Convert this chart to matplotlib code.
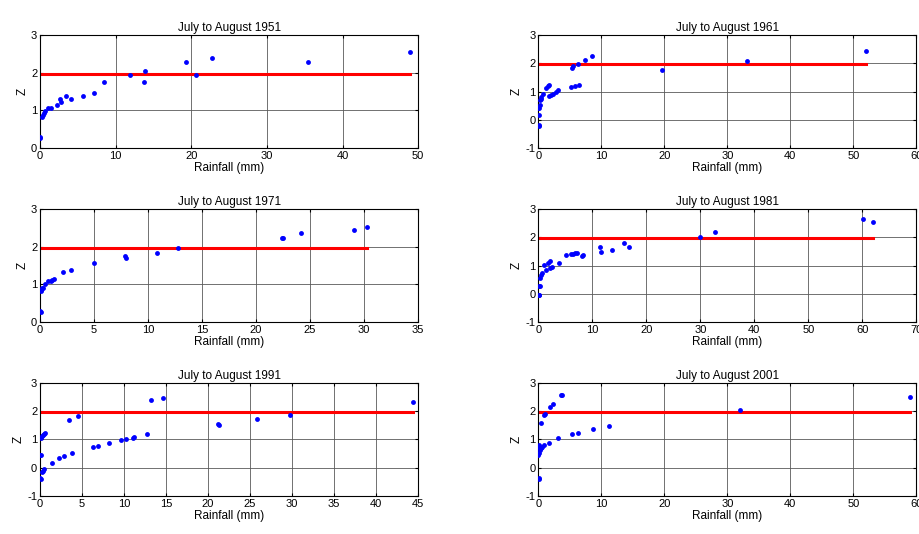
import matplotlib
matplotlib.use("Agg")
import matplotlib.pyplot as plt
import numpy as np

plt.rcParams.update(
    {
        "font.family": ["Liberation Sans", "DejaVu Sans"],
        "font.size": 8,
        "axes.unicode_minus": False,
        "xtick.direction": "in",
        "ytick.direction": "in",
        "xtick.top": True,
        "ytick.right": True,
        "xtick.major.size": 2.5,
        "ytick.major.size": 2.5,
        "axes.linewidth": 0.8,
    }
)

# rainfall (mm) and Z values per period
rain_1951 = [0.0, 0.05, 0.2, 0.35, 0.5, 0.7, 1.1, 1.5, 2.3, 2.7, 2.8, 3.5, 4.1, 5.7, 7.1, 8.4,
             11.9, 13.7, 13.9, 19.3, 20.6, 22.8, 35.5, 48.9]
z_1951 = [0.27, 0.29, 0.83, 0.89, 0.93, 0.98, 1.07, 1.07, 1.15, 1.29, 1.22, 1.39, 1.30, 1.39, 1.46, 1.74,
          1.93, 1.74, 2.04, 2.29, 1.94, 2.40, 2.29, 2.56]

rain_1961 = [0.05, 0.1, 0.05, 0.0, 0.2, 0.3, 0.26, 0.4, 0.5, 0.74, 1.2, 1.5, 1.7, 1.74, 2.06, 2.4,
             2.8, 3.2, 5.2, 5.8, 6.4, 5.3, 5.55, 6.3, 7.4, 8.5, 19.6, 33.1, 52.0]
z_1961 = [-0.23, -0.2, 0.18, 0.40, 0.43, 0.54, 0.69, 0.74, 0.81, 0.90, 1.11, 1.20, 1.22, 0.85, 0.87, 0.92,
          0.98, 1.04, 1.15, 1.19, 1.22, 1.84, 1.89, 1.99, 2.11, 2.25, 1.76, 2.09, 2.44]

rain_1971 = [0.0, 0.06, 0.06, 0.12, 0.2, 0.3, 0.5, 0.7, 1.0, 1.15, 1.27, 2.1, 2.84, 5.0, 7.87, 7.96,
             10.8, 12.8, 22.4, 22.5, 24.2, 29.1, 30.3]
z_1971 = [0.28, 0.27, 0.82, 0.86, 0.89, 0.91, 1.02, 1.09, 1.09, 1.11, 1.14, 1.32, 1.39, 1.57, 1.75, 1.69,
          1.82, 1.96, 2.24, 2.24, 2.36, 2.43, 2.53]

rain_1981 = [0.06, 0.15, 0.06, 0.25, 0.25, 0.43, 0.68, 0.99, 1.36, 1.73, 2.1, 2.2, 2.47, 3.9, 5.1, 6.05,
             6.4, 6.8, 7.1, 8.2, 8.3, 11.5, 11.7, 13.7, 15.8, 16.9, 29.9, 32.7, 60.1, 61.9]
z_1981 = [-0.05, -0.03, 0.27, 0.27, 0.56, 0.66, 0.72, 1.02, 0.84, 1.08, 0.92, 1.16, 0.95, 1.08, 1.36, 1.41,
          1.42, 1.44, 1.46, 1.33, 1.36, 1.66, 1.49, 1.55, 1.79, 1.65, 2.00, 2.18, 2.64, 2.54]

rain_1991 = [0.0, 0.08, 0.04, 0.16, 0.2, 0.3, 0.44, 0.12, 0.24, 0.36, 0.48, 0.63, 1.39, 2.26, 2.9, 3.85,
             3.45, 4.52, 6.3, 6.9, 8.2, 9.6, 10.2, 11.1, 11.15, 12.7, 13.2, 14.6, 21.2, 21.3, 25.8,
             29.8, 44.4]
z_1991 = [-0.37, -0.39, 0.46, 0.46, -0.14, -0.10, -0.04, 1.07, 1.12, 1.16, 1.19, 1.24, 0.18, 0.35, 0.42, 0.51,
          1.70, 1.83, 0.74, 0.77, 0.88, 0.98, 1.01, 1.07, 1.08, 1.18, 2.40, 2.47, 1.54, 1.52, 1.73,
          1.86, 2.32]

rain_2001 = [0.05, 0.15, 0.0, 0.16, 0.0, 0.1, 0.26, 0.42, 0.63, 0.95, 1.64, 3.17, 0.42, 0.95, 1.0, 1.85,
             2.27, 3.6, 3.75, 5.44, 6.34, 8.67, 11.3, 32.0, 59.0]
z_2001 = [-0.37, -0.40, 0.75, 0.79, 0.46, 0.51, 0.63, 0.69, 0.74, 0.79, 0.87, 1.04, 1.60, 1.85, 1.89, 2.15,
          2.25, 2.57, 2.58, 1.20, 1.24, 1.37, 1.47, 2.04, 2.49]

years = ["1951", "1961", "1971", "1981", "1991", "2001"]
rains = [rain_1951, rain_1961, rain_1971, rain_1981, rain_1991, rain_2001]
zs = [z_1951, z_1961, z_1971, z_1981, z_1991, z_2001]
x_max = [50, 60, 35, 70, 45, 60]
y_min = [0, -1, 0, -1, -1, -1]
z_crit = 1.96

fig = plt.figure(figsize=(9.2, 5.34), dpi=100)
lefts = [0.0435, 0.585]
bottoms = [0.7228, 0.397, 0.0712]
w, h = 0.411, 0.2116

for i, year in enumerate(years):
    ax = fig.add_axes([lefts[i % 2], bottoms[i // 2], w, h])
    x = np.array(rains[i])
    ax.plot([0, x.max()], [z_crit, z_crit], color="red", linewidth=2.2, zorder=2)
    ax.plot(x, zs[i], "o", color="blue", markersize=3.5, markeredgewidth=0, zorder=3)
    ax.set_xlim(0, x_max[i])
    ax.set_ylim(y_min[i], 3)
    ax.set_yticks(np.arange(y_min[i], 4, 1))
    ax.grid(True, color="0.35", linewidth=0.6)
    ax.set_axisbelow(True)
    ax.set_title(f"July to August {year}", fontsize=8.5, pad=3)
    ax.set_xlabel("Rainfall (mm)", fontsize=8.5, labelpad=1)
    ax.set_ylabel("Z", fontsize=8.5, labelpad=2)
    ax.tick_params(labelsize=8, pad=2)

fig.savefig("out.png", dpi=100, facecolor="white")
